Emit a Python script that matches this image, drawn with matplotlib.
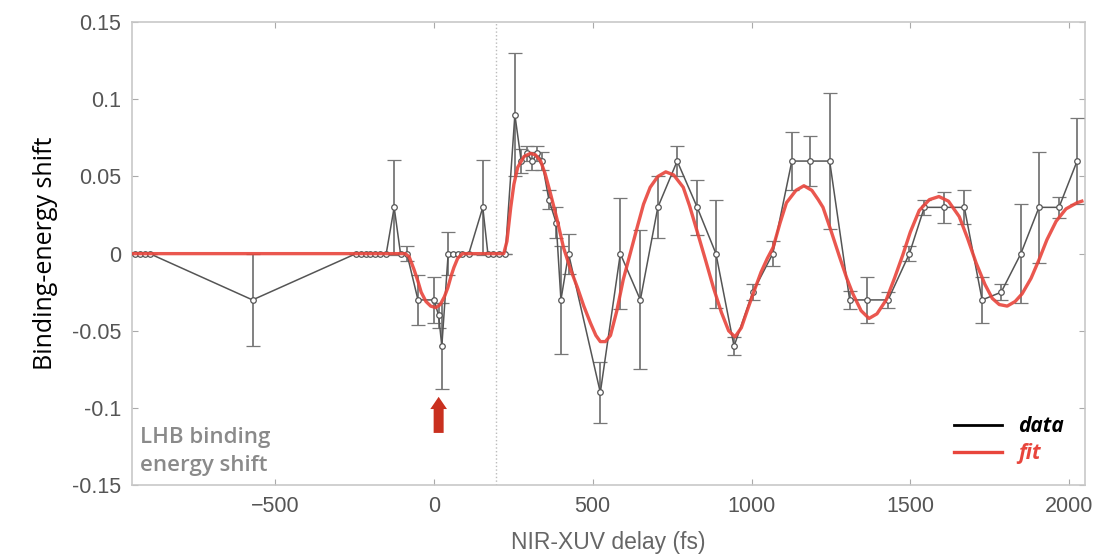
import matplotlib
matplotlib.use("Agg")
import matplotlib.pyplot as plt

# ── data ─────────────────────────────────────────────────────────────────────
delay = [-940, -925, -910, -895, -571,
         -245, -230, -215, -200, -185, -170, -150, -125, -105, -85,
         -50, 0, 15, 25, 45, 60, 75, 90, 110, 154, 170, 185, 205, 225,
         255, 275, 292, 310, 325, 340, 362, 385, 400, 424,
         524, 587, 650, 705, 766, 829, 888, 945, 1004, 1067,
         1127, 1183, 1246, 1309, 1365, 1430, 1497, 1544, 1607, 1670,
         1726, 1786, 1848, 1905, 1968, 2025]
shift = [0, 0, 0, 0, -0.03,
         0, 0, 0, 0, 0, 0, 0, 0.03, 0, 0,
         -0.03, -0.03, -0.04, -0.06, 0, 0, 0, 0, 0, 0.03, 0, 0, 0, 0,
         0.09, 0.06, 0.065, 0.06, 0.065, 0.06, 0.035, 0.02, -0.03, 0.0,
         -0.09, 0.0, -0.03, 0.03, 0.06, 0.03, 0.0, -0.06, -0.025, 0.0,
         0.06, 0.06, 0.06, -0.03, -0.03, -0.03, 0.0, 0.03, 0.03, 0.03,
         -0.03, -0.025, 0.0, 0.03, 0.03, 0.06]
err = [0, 0, 0, 0, 0.03,
       0, 0, 0, 0, 0, 0, 0, 0.031, 0, 0.005,
       0.016, 0.015, 0.008, 0.028, 0.014, 0, 0, 0, 0, 0.031, 0, 0, 0, 0,
       0.04, 0.008, 0.005, 0.006, 0.005, 0.006, 0.006, 0.01, 0.035, 0.013,
       0.02, 0.036, 0.045, 0.02, 0.01, 0.018, 0.035, 0.006, 0.005, 0.008,
       0.019, 0.016, 0.044, 0.006, 0.015, 0.005, 0.005, 0.005, 0.01, 0.011,
       0.015, 0.005, 0.032, 0.036, 0.007, 0.028]

fit_delay = [-950, -90, -78, -63, -50, -40, -25, -10, 6, 20, 33, 44, 55, 63, 75, 90,
             220, 230, 242, 252, 264, 284, 304, 320, 336, 350, 367, 388, 408,
             430, 452, 472, 493, 510, 524, 540, 556, 576, 596, 618, 640, 660,
             681, 705, 730, 755, 785, 805, 828, 855, 880, 905, 928, 948, 968,
             988, 1005, 1030, 1050, 1068, 1090, 1110, 1140, 1165, 1190, 1210,
             1225, 1250, 1277, 1300, 1319, 1345, 1370, 1395, 1424, 1450, 1476,
             1500, 1528, 1560, 1590, 1620, 1654, 1680, 1707, 1735, 1758, 1780,
             1805, 1830, 1852, 1880, 1905, 1930, 1959, 1990, 2025, 2040]
fit_shift = [0, 0, -0.002, -0.01, -0.018, -0.025, -0.031, -0.034, -0.035, -0.033, -0.028,
             -0.022, -0.014, -0.009, -0.003, 0,
             0, 0.008, 0.03, 0.045, 0.056, 0.063, 0.065, 0.064, 0.06, 0.052, 0.039, 0.022, 0.004,
             -0.01, -0.022, -0.034, -0.045, -0.053, -0.057, -0.057, -0.053, -0.037, -0.017, 0.0,
             0.017, 0.032,
             0.043, 0.05, 0.053, 0.051, 0.043, 0.031, 0.015, -0.004, -0.022, -0.038, -0.05, -0.054,
             -0.048,
             -0.036, -0.026, -0.012, -0.003, 0.004, 0.02, 0.033, 0.041, 0.044, 0.041, 0.035,
             0.03, 0.015, -0.002, -0.016, -0.026, -0.037, -0.042, -0.039, -0.03, -0.016, -0.001,
             0.014, 0.028, 0.035, 0.037, 0.034, 0.024, 0.01, -0.006, -0.02, -0.029, -0.033,
             -0.034, -0.031, -0.026, -0.016, -0.004, 0.009, 0.021, 0.029, 0.033, 0.034]

xticks = [-500, 0, 500, 1000, 1500, 2000]
yticks = [-0.15, -0.1, -0.05, 0, 0.05, 0.1, 0.15]
ytick_labels = ["-0.15", "-0.1", "-0.05", "0", "0.05", "0.1", "0.15"]

# ── plot ─────────────────────────────────────────────────────────────────────
fig = plt.figure(figsize=(11.01, 5.55), dpi=100)
ax = fig.add_axes([0.12, 0.126, 0.8655, 0.834])

ax.axvline(195, color="#bbbbbb", linestyle=":", linewidth=1)

ax.errorbar(delay, shift, yerr=err, fmt="-o", color="#555555", ecolor="#777777",
            elinewidth=1.3, capsize=5, capthick=1.2, linewidth=1.1,
            markersize=4, markerfacecolor="white", markeredgecolor="#555555",
            markeredgewidth=0.9, zorder=3)
ax.plot(fit_delay, fit_shift, color="#e8453c", linewidth=2.4, alpha=0.9, zorder=4)

# legend from proxy handles
h_data, = ax.plot([], [], color="black", linewidth=2)
h_fit, = ax.plot([], [], color="#e8453c", linewidth=2.4)
leg = ax.legend([h_data, h_fit], ["data", "fit"], loc="lower right", frameon=False,
                prop={"family": "Open Sans", "style": "italic", "weight": "bold", "size": 15},
                handlelength=2.3, borderaxespad=0.6, labelspacing=0.3)
leg.get_texts()[1].set_color("#e8453c")

ax.text(-925, -0.144, "LHB binding\nenergy shift", color="#8a8a8a", fontsize=16,
        family="Open Sans", fontweight="semibold", linespacing=1.45, va="bottom")

ax.annotate("", xy=(15, -0.091), xytext=(15, -0.118),
            arrowprops=dict(arrowstyle="simple,head_width=0.75,head_length=0.55,tail_width=0.45",
                            mutation_scale=16, color="#c9301f", lw=0))

ax.set_xlim(-950, 2050)
ax.set_ylim(-0.15, 0.15)
ax.set_xticks(xticks)
ax.set_yticks(yticks)
ax.set_yticklabels(ytick_labels)
ax.tick_params(direction="in", length=4, color="#aaaaaa", labelcolor="#555555",
               labelsize=15.5, top=True, right=True, pad=8)
for lab in ax.get_xticklabels() + ax.get_yticklabels():
    lab.set_family("Liberation Sans")
for s in ax.spines.values():
    s.set_color("#c8c8c8")
    s.set_linewidth(1.2)

ax.set_xlabel("NIR-XUV delay (fs)", fontsize=16.5, color="#666666", family="Liberation Sans", labelpad=10)
ax.set_ylabel("Binding-energy shift", fontsize=18, color="black", family="Open Sans", labelpad=10)

plt.savefig("out.png", dpi=100)
